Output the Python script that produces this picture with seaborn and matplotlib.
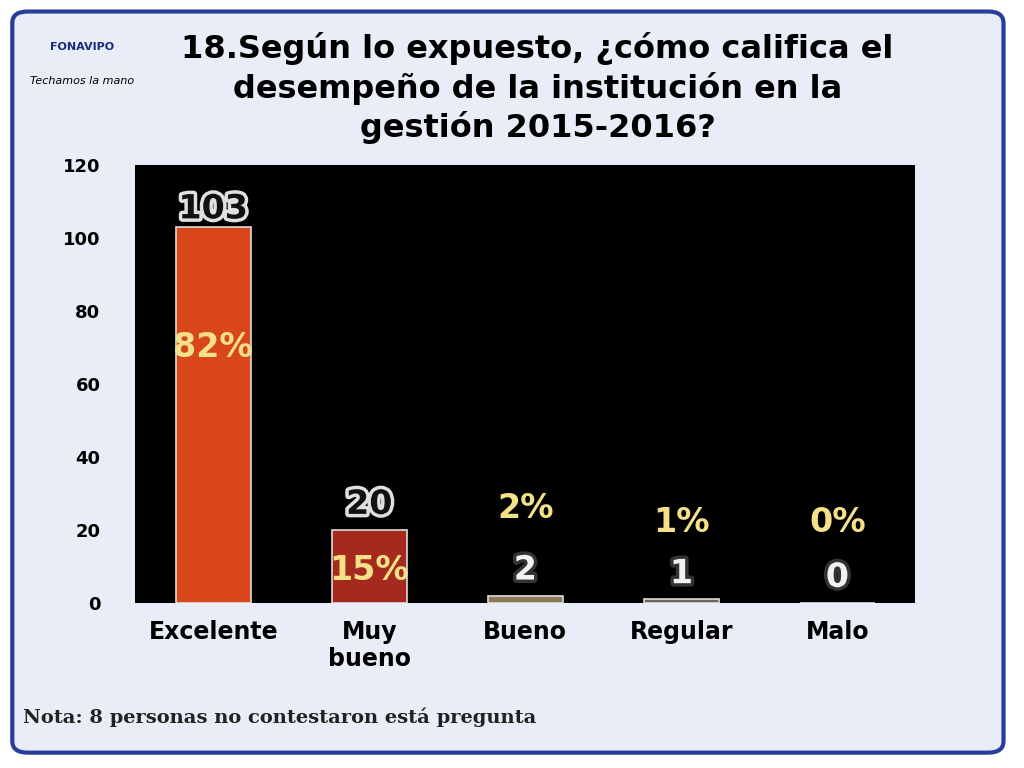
import matplotlib
matplotlib.use("Agg")
import matplotlib.pyplot as plt
import seaborn as sns
import pandas as pd
from matplotlib.patches import FancyBboxPatch
import matplotlib.patheffects as pe

categories = ["Excelente", "Muy\nbueno", "Bueno", "Regular", "Malo"]
counts = [103, 20, 2, 1, 0]
percents = ["82%", "15%", "2%", "1%", "0%"]
pct_y = [70, 9, 26, 22, 22]
bar_colors = ["#D9461A", "#A52A1E", "#8A7A55", "#6B6458", "#444444"]

df = pd.DataFrame({"cat": categories, "n": counts})

fig = plt.figure(figsize=(10.24, 7.68), dpi=100)
fig.patch.set_facecolor("white")
slide = FancyBboxPatch((0.012, 0.02), 0.968, 0.965, boxstyle="round,pad=0.0,rounding_size=0.015",
                       transform=fig.transFigure, facecolor="#E8EDF8", edgecolor="#2A3C9A",
                       linewidth=3, zorder=-10)
fig.patches.append(slide)

ax = fig.add_axes([0.132, 0.215, 0.762, 0.57])
ax.set_facecolor("black")
sns.barplot(data=df, x="cat", y="n", hue="cat", palette=bar_colors, legend=False, saturation=1,
            width=0.48, edgecolor="#DDDDDD", linewidth=1.2, ax=ax)
ax.set_ylim(0, 120)
ax.set_xlim(-0.5, 4.5)
ax.set_yticks(range(0, 121, 20))
ax.set_xlabel(""); ax.set_ylabel("")
for s in ax.spines.values():
    s.set_visible(False)
ax.tick_params(length=0)
ax.tick_params(axis="y", labelsize=13, pad=25)
ax.tick_params(axis="x", labelsize=17, pad=12)
for t in ax.get_yticklabels() + ax.get_xticklabels():
    t.set_fontweight("bold")
cnt_y = [108, 27, 9, 8, 7]
for i, (c, p) in enumerate(zip(counts, percents)):
    dark = i < 2
    ax.text(i, cnt_y[i], str(c), ha="center", va="center", fontsize=24,
            color="#111111" if dark else "#F2F2F2", fontweight="bold",
            path_effects=[pe.withStroke(linewidth=5, foreground="#E0E0E0" if dark else "#333333")])
    ax.text(i, pct_y[i], p, ha="center", va="center", fontsize=24, color="#F5E08A",
            fontweight="bold")

fig.text(0.525, 0.885, "18.Según lo expuesto, ¿cómo califica el\ndesempeño de la institución en la\ngestión 2015-2016?",
         ha="center", va="center", fontsize=23, fontweight="bold", linespacing=1.25)
fig.text(0.08, 0.935, "FONAVIPO", ha="center", fontsize=8, fontweight="bold", color="#1A2A7A")
fig.text(0.08, 0.89, "Techamos la mano", ha="center", fontsize=8, style="italic")
fig.text(0.022, 0.058, "Nota: 8 personas no contestaron está pregunta", fontsize=14,
         fontweight="bold", family="DejaVu Serif", color="#222222")
fig.savefig("out.png", dpi=100)
